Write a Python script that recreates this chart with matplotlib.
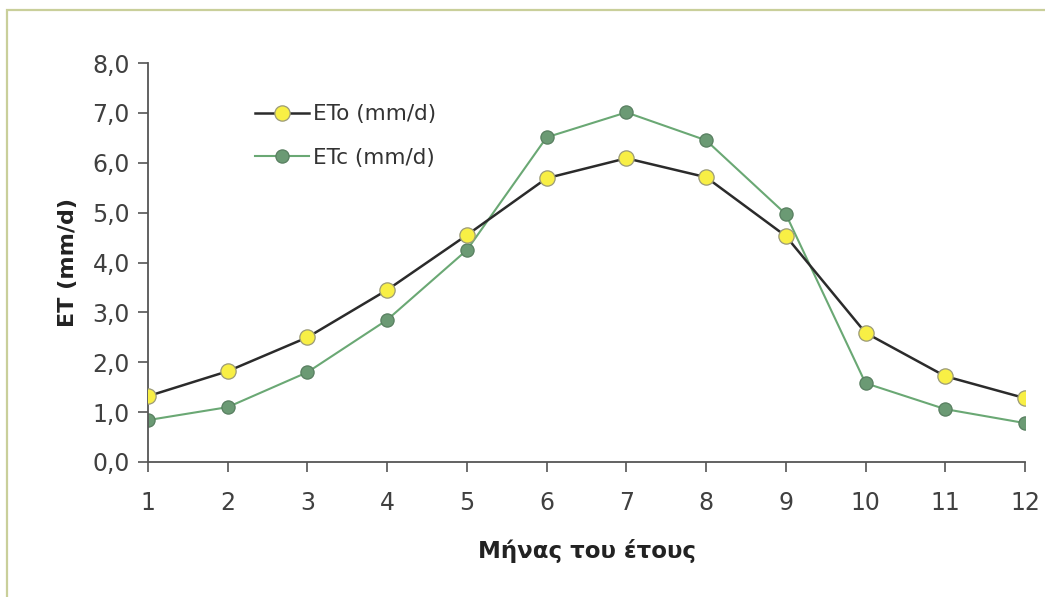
import matplotlib.pyplot as plt
from matplotlib.patches import Rectangle

# monthly evapotranspiration values
months = [1, 2, 3, 4, 5, 6, 7, 8, 9, 10, 11, 12]
eto = [1.32, 1.82, 2.50, 3.45, 4.55, 5.69, 6.09, 5.71, 4.53, 2.59, 1.72, 1.28]
etc = [0.84, 1.10, 1.80, 2.85, 4.25, 6.51, 7.01, 6.45, 4.97, 1.58, 1.06, 0.78]
yticks = [0, 1, 2, 3, 4, 5, 6, 7, 8]
ytick_labels = ["0,0", "1,0", "2,0", "3,0", "4,0", "5,0", "6,0", "7,0", "8,0"]

fig = plt.figure(figsize=(10.45, 5.97), dpi=100)
fig.patch.set_facecolor("white")
# light olive frame round the chart
fig.patches.append(Rectangle((7 / 1045, -0.1), 1.2, 1 - 10 / 597 + 0.1,
                             transform=fig.transFigure, fill=False,
                             edgecolor="#c9cf9a", linewidth=1.6))

ax = fig.add_axes([148 / 1045, 1 - 462 / 597, (1025 - 148) / 1045, (462 - 63) / 597])
ax.set_facecolor("none")

ax.plot(months, eto, color="#2b2b2b", linewidth=1.8, marker="o", markersize=11,
        markerfacecolor="#f8ef45", markeredgecolor="#9b9a78", markeredgewidth=0.9,
        label="ETo (mm/d)", zorder=3)
ax.plot(months, etc, color="#6aa874", linewidth=1.5, marker="o", markersize=9.5,
        markerfacecolor="#6b9a74", markeredgecolor="#587f60", markeredgewidth=0.9,
        label="ETc (mm/d)", zorder=2)

ax.set_xlim(1, 12)
ax.set_ylim(0, 8)
ax.set_xticks(months)
ax.set_yticks(yticks)
ax.set_yticklabels(ytick_labels)
ax.tick_params(axis="both", labelsize=17, colors="#555555", labelcolor="#404040",
               length=7, width=1.2, pad=6)
ax.tick_params(axis="x", pad=14)

for side in ["top", "right"]:
    ax.spines[side].set_visible(False)
for side in ["left", "bottom"]:
    ax.spines[side].set_color("#555555")
    ax.spines[side].set_linewidth(1.3)

ax.set_xlabel("Μήνας του έτους", fontsize=16.5, fontweight="bold", color="#222222", labelpad=17)
ax.set_ylabel("ET (mm/d)", fontsize=16, fontweight="bold", color="#222222", labelpad=10)

leg = ax.legend(loc="upper left", bbox_to_anchor=(0.100, 0.945), frameon=False,
                fontsize=15.5, handlelength=2.5, handletextpad=0.2, labelspacing=1.1,
                labelcolor="#333333")

fig.savefig("out.png", dpi=100, facecolor=fig.get_facecolor())
